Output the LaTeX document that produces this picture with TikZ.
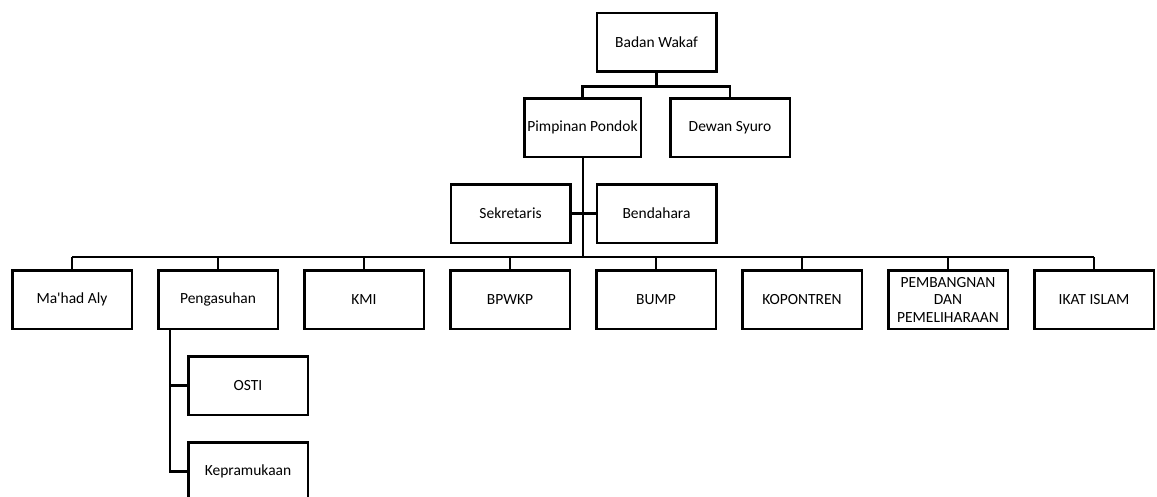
\documentclass[tikz,border=0pt]{standalone}
\usepackage{fontspec}
\setmainfont{Carlito}[Ligatures=TeXOff]
\begin{document}
\begin{tikzpicture}[x=1pt,y=-1pt,
    unit/.style={draw, line width=2.5pt, minimum width=119.5pt, minimum height=58.5pt,
        align=center, inner sep=2pt, font=\fontsize{15.5}{17.5}\selectfont},
    link/.style={line width=2.5pt}]
    \useasboundingbox (0,0) rectangle (1157,496);

    % Top of the chart
    \node[unit] (wakaf) at (656.5,42) {Badan Wakaf};
    \node[unit, minimum width=116.5pt] (pimpinan) at (582.5,127.5) {Pimpinan Pondok};
    \node[unit] (syuro) at (730,127.5) {Dewan Syuro};
    \node[unit] (sekretaris) at (510.5,213.5) {Sekretaris};
    \node[unit] (bendahara) at (656.5,213.5) {Bendahara};

    % Units on the bottom row
    \foreach \i/\name/\label in {0/mahad/{Ma'had Aly}, 1/pengasuhan/Pengasuhan, 2/kmi/KMI,
        3/bpwkp/BPWKP, 4/bump/BUMP, 5/kopontren/KOPONTREN,
        6/pembangunan/{PEMBANGNAN\\DAN\\PEMELIHARAAN}, 7/ikat/IKAT ISLAM} {
        \node[unit] (\name) at (72+146*\i,299.5) {\label};
    };

    % Sub-units of Pengasuhan
    \node[unit] (osti) at (248,385.5) {OSTI};
    \node[unit] (pramuka) at (248,471.5) {Kepramukaan};

    % Badan Wakaf to the leaders
    \draw[link] (wakaf.south) -- ++(0,14) coordinate (fork);
    \draw[link] (pimpinan.north) |- (fork) -| (syuro.north);

    % Trunk down to the bus
    \coordinate (bus) at (583,257);
    \draw[link] (pimpinan.south -| bus) -- (bus);
    \draw[link] (sekretaris.east) -- (sekretaris.east -| bus);
    \draw[link] (bendahara.west) -- (bendahara.west -| bus);

    % Bus and drops to each unit
    \draw[link] (mahad.north |- bus) -- (ikat.north |- bus);
    \foreach \name in {mahad, pengasuhan, kmi, bpwkp, bump, kopontren, pembangunan, ikat}
        \draw[link] (\name.north) -- (\name.north |- bus);

    % Pengasuhan branch
    \coordinate (subtrunk) at ([xshift=13pt]pengasuhan.south west);
    \draw[link] (subtrunk) |- (osti.west);
    \draw[link] (subtrunk) |- (pramuka.west);
\end{tikzpicture}
\end{document}
